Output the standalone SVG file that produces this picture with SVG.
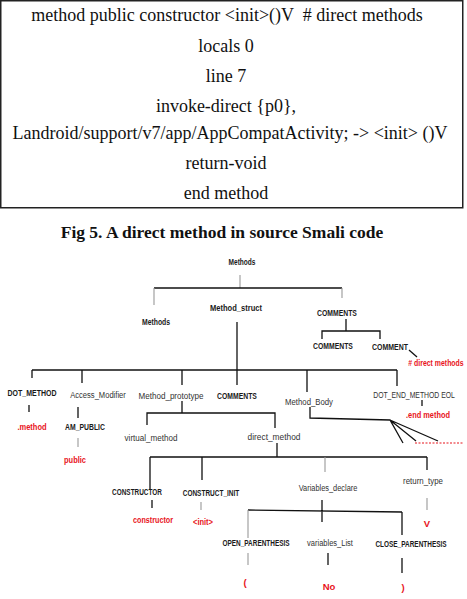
<svg xmlns="http://www.w3.org/2000/svg" width="467" height="599" viewBox="0 0 467 599">
<style>
.code{font-family:"Liberation Serif","Times New Roman",serif;font-size:18px;fill:#111;text-anchor:middle}
.cap{font-family:"Liberation Serif","Times New Roman",serif;font-size:17.5px;font-weight:bold;fill:#111;text-anchor:middle}
.t{font-family:"Liberation Sans",Arial,sans-serif;font-size:9.5px;fill:#1a1a1a;text-anchor:middle;font-weight:bold}
.n{font-family:"Liberation Sans",Arial,sans-serif;font-size:9.5px;fill:#333;text-anchor:middle}
.r{font-family:"Liberation Sans",Arial,sans-serif;font-size:9.5px;fill:#e8141c;text-anchor:middle;font-weight:bold}
.l{stroke:#111;stroke-width:1.3;fill:none}
.g{stroke:#999;stroke-width:1.1;fill:none}
</style>
<rect x="0.75" y="0.75" width="462" height="207" fill="#fff" stroke="#222" stroke-width="1.5"/>
<g id="code">
<text class="code" x="227" y="21" xml:space="preserve">method public constructor &lt;init&gt;()V  # direct methods</text>
<text class="code" x="226" y="52">locals 0</text>
<text class="code" x="226" y="82">line 7</text>
<text class="code" x="226" y="112">invoke-direct {p0},</text>
<text class="code" x="230" y="139">Landroid/support/v7/app/AppCompatActivity; -&gt; &lt;init&gt; ()V</text>
<text class="code" x="226" y="169">return-void</text>
<text class="code" x="226" y="199">end method</text>
</g>
<text class="cap" x="222" y="238">Fig 5. A direct method in source Smali code</text>
<g id="connectors">
<path class="g" d="M240 275V288"/>
<path class="l" d="M154 288H342"/>
<path class="g" d="M154 288V305M342 288V298"/>
<path class="l" d="M237 322V370"/>
<path class="l" d="M346 319V331H322V339M346 331H380V339"/>
<path class="l" d="M409 350L417 357"/>
<path class="l" d="M32 370H397"/>
<path class="l" d="M32 370V378M82 370V383M182 370V385M237 370V385M307 370V392M397 370V386"/>
<path class="l" d="M29 405V412M78 407V418M422 400V406"/>
<path class="g" d="M78 438V447"/>
<path class="l" d="M182 401V413H147V425M182 413H275V428"/>
<path class="l" d="M310 407V418L390 420L403 443M390 420L416 441M390 420L438 441"/>
<path d="M415 443H463" stroke="#e8141c" stroke-width="1.2" stroke-dasharray="2,1.5"/>
<path class="l" d="M277 443V457M150 457H427M150 457V490M202 457V480"/>
<path class="g" d="M325 457V472"/>
<path class="l" d="M427 457V470"/>
<path class="l" d="M152 500V508"/>
<path class="g" d="M201 502V510M427 498V510"/>
<path class="l" d="M322 500V522M248 510L402 512"/>
<path class="g" d="M248 510V538"/>
<path class="l" d="M402 512V535"/>
<path class="g" d="M248 553V565"/>
<path class="l" d="M328 553V565"/>
<path class="l" d="M402 558V573" stroke-width="1.6"/>
</g>
<g id="n-methods-root"><text class="t" transform="translate(242,265) scale(0.69,1)">Methods</text></g>
<g id="n-methods"><text class="t" transform="translate(156,325) scale(0.72,1)">Methods</text></g>
<g id="n-method-struct"><text class="t" transform="translate(236,311) scale(0.795,1)">Method_struct</text></g>
<g id="n-comments-top"><text class="t" transform="translate(337,316) scale(0.72,1)">COMMENTS</text></g>
<g id="n-comments-child"><text class="t" transform="translate(333,349) scale(0.72,1)">COMMENTS</text></g>
<g id="n-comment"><text class="t" transform="translate(390,350) scale(0.733,1)">COMMENT</text></g>
<g id="n-direct-methods-val"><text class="r" transform="translate(436,366) scale(0.73,1)"># direct methods</text></g>
<g id="n-dot-method"><text class="t" transform="translate(32,396) scale(0.737,1)">DOT_METHOD</text></g>
<g id="n-dot-method-val"><text class="r" transform="translate(32,430) scale(0.79,1)">.method</text></g>
<g id="n-access-modifier"><text class="n" transform="translate(98,398) scale(0.80,1)">Access_Modifier</text></g>
<g id="n-am-public"><text class="t" transform="translate(85,430) scale(0.72,1)">AM_PUBLIC</text></g>
<g id="n-public"><text class="r" transform="translate(75,463) scale(0.79,1)">public</text></g>
<g id="n-method-prototype"><text class="n" transform="translate(171,399) scale(0.85,1)">Method_prototype</text></g>
<g id="n-comments-mid"><text class="t" transform="translate(237,399) scale(0.72,1)">COMMENTS</text></g>
<g id="n-method-body"><text class="n" transform="translate(309,405) scale(0.82,1)">Method_Body</text></g>
<g id="n-dot-end-method"><text class="n" transform="translate(414,398) scale(0.72,1)">DOT_END_METHOD EOL</text></g>
<g id="n-end-method-val"><text class="r" transform="translate(428,418) scale(0.78,1)">.end method</text></g>
<g id="n-virtual-method"><text class="n" transform="translate(151,441) scale(0.85,1)">virtual_method</text></g>
<g id="n-direct-method"><text class="n" transform="translate(274,440) scale(0.88,1)">direct_method</text></g>
<g id="n-constructor"><text class="t" transform="translate(137,495) scale(0.677,1)">CONSTRUCTOR</text></g>
<g id="n-constructor-val"><text class="r" transform="translate(153,523) scale(0.76,1)">constructor</text></g>
<g id="n-construct-init"><text class="t" transform="translate(211,496) scale(0.684,1)">CONSTRUCT_INIT</text></g>
<g id="n-init-val"><text class="r" transform="translate(203,525) scale(0.79,1)">&lt;init&gt;</text></g>
<g id="n-variables-declare"><text class="n" transform="translate(328,491) scale(0.78,1)">Variables_declare</text></g>
<g id="n-return-type"><text class="n" transform="translate(423,484) scale(0.83,1)">return_type</text></g>
<g id="n-v-val"><text class="r" x="427" y="527">V</text></g>
<g id="n-open-paren"><text class="t" transform="translate(256,546) scale(0.68,1)">OPEN_PARENTHESIS</text></g>
<g id="n-open-val"><text class="r" x="245" y="586">(</text></g>
<g id="n-variables-list"><text class="n" transform="translate(330,546) scale(0.79,1)">variables_List</text></g>
<g id="n-no-val"><text class="r" x="329" y="590">No</text></g>
<g id="n-close-paren"><text class="t" transform="translate(411,547) scale(0.68,1)">CLOSE_PARENTHESIS</text></g>
<g id="n-close-val"><text class="r" x="403" y="591">)</text></g>
</svg>
